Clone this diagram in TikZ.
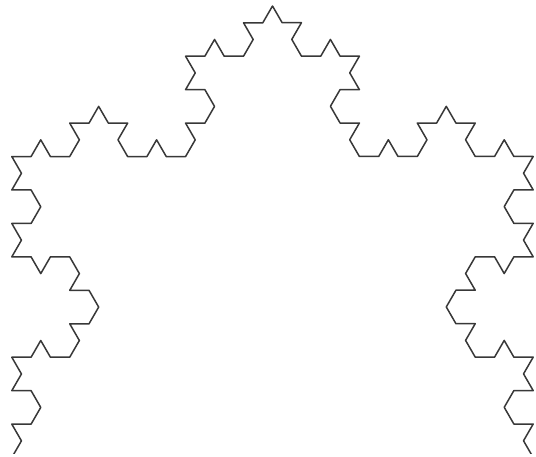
\documentclass[tikz,border=0pt]{standalone}
\usetikzlibrary{decorations.fractals,calc}
\tikzset{flake/.style={draw=black!78, line width=1.5pt, line join=round, line cap=round, decoration=Koch snowflake}}
\begin{document}
\begin{tikzpicture}[x=1pt,y=1pt]
\useasboundingbox (0,0) rectangle (536,457);
\fill[white] (0,0) rectangle (536,457);
\clip (0,3.5) rectangle (536,457);
\coordinate (T) at (272.5,451);
\coordinate (R) at ($(T)+(-60:521.4)$);
\coordinate (L) at ($(T)+(-120:521.4)$);
\draw[flake] decorate{decorate{decorate{(T) -- (R) -- (L) -- cycle}}};
\end{tikzpicture}
\end{document}
